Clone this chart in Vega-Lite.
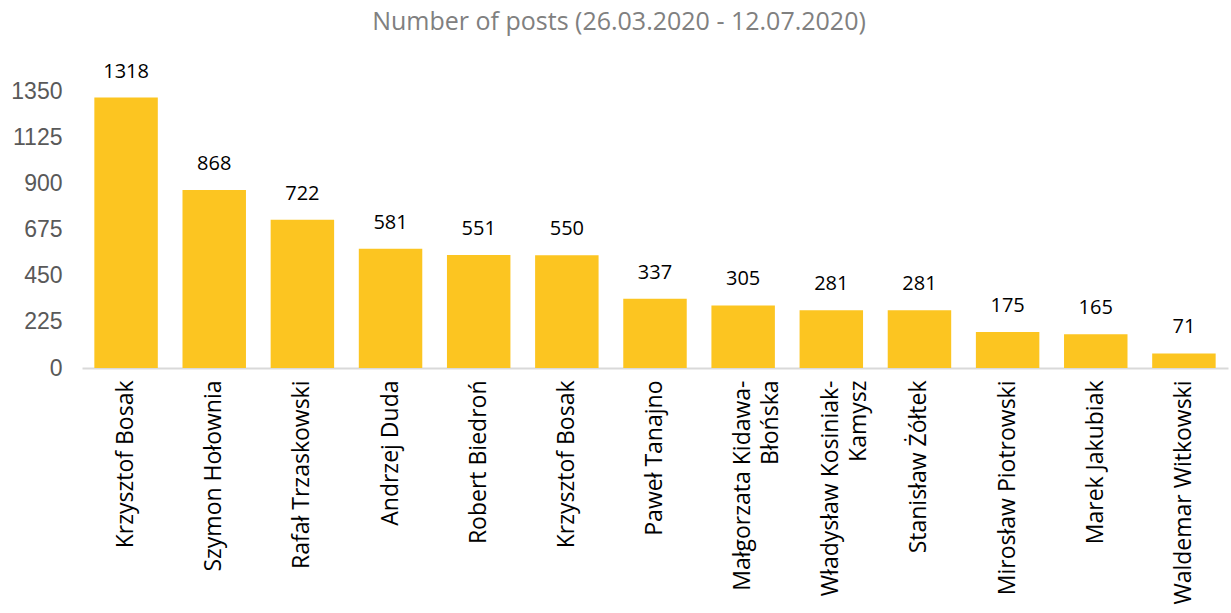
{
  "$schema": "https://vega.github.io/schema/vega-lite/v6.json",
  "autosize": "none",
  "width": 1146,
  "height": 277,
  "padding": {"left": 82, "top": 91, "right": 3, "bottom": 245},
  "background": "white",
  "title": {
    "text": "Number of posts (26.03.2020 - 12.07.2020)",
    "font": "Open Sans",
    "fontSize": 25,
    "fontWeight": "normal",
    "color": "#808080",
    "anchor": "middle",
    "frame": "group",
    "dx": -36,
    "offset": 27
  },
  "data": {
    "values": [
      {"name": "Krzysztof Bosak", "posts": 1318},
      {"name": "Szymon Hołownia", "posts": 868},
      {"name": "Rafał Trzaskowski", "posts": 722},
      {"name": "Andrzej Duda", "posts": 581},
      {"name": "Robert Biedroń", "posts": 551},
      {"name": "Krzysztof Bosak ", "posts": 550},
      {"name": "Paweł Tanajno", "posts": 337},
      {"name": "Małgorzata Kidawa-|Błońska", "posts": 305},
      {"name": "Władysław Kosiniak-|Kamysz", "posts": 281},
      {"name": "Stanisław Żółtek", "posts": 281},
      {"name": "Mirosław Piotrowski", "posts": 175},
      {"name": "Marek Jakubiak", "posts": 165},
      {"name": "Waldemar Witkowski", "posts": 71}
    ]
  },
  "encoding": {
    "x": {
      "field": "name",
      "type": "nominal",
      "sort": null,
      "scale": {"paddingInner": 0.28, "paddingOuter": 0.14},
      "axis": {
        "title": null,
        "labelAngle": -90,
        "labelExpr": "split(datum.value, '|')",
        "labelFont": "Open Sans",
        "labelFontSize": 23,
        "labelLineHeight": 28,
        "labelColor": "#000000",
        "labelPadding": 12,
        "labelLimit": 300,
        "ticks": false,
        "domainColor": "#D9D9D9",
        "domainWidth": 2,
        "grid": false
      }
    },
    "y": {
      "field": "posts",
      "type": "quantitative",
      "scale": {"domain": [0, 1350], "nice": false},
      "axis": {
        "title": null,
        "values": [0, 225, 450, 675, 900, 1125, 1350],
        "format": "d",
        "labelFont": "Liberation Sans",
        "labelFontSize": 23,
        "labelColor": "#595959",
        "labelPadding": 20,
        "ticks": false,
        "domain": false,
        "grid": false
      }
    }
  },
  "layer": [
    {"mark": {"type": "bar", "color": "#FCC521"}},
    {
      "mark": {"type": "text", "font": "Open Sans", "fontSize": 20, "color": "#000000", "baseline": "middle", "dy": -26},
      "encoding": {"text": {"field": "posts", "type": "quantitative"}}
    }
  ],
  "config": {"view": {"stroke": null}}
}
